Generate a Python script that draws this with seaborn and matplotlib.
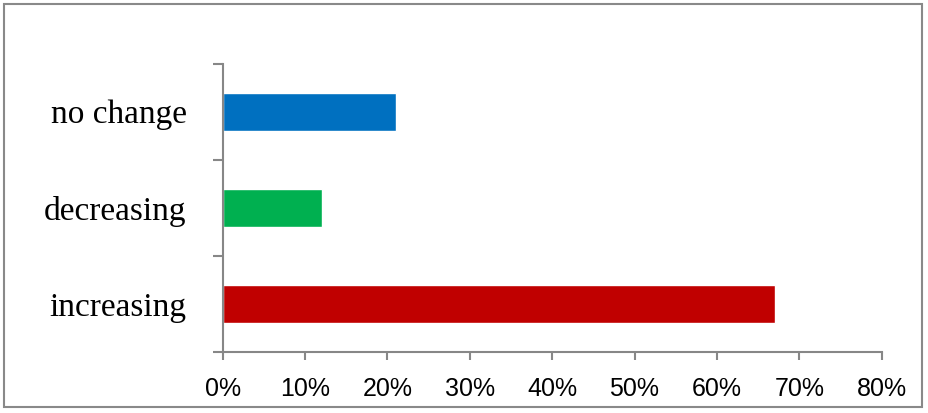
import numpy as np
import pandas as pd
import seaborn as sns
from matplotlib import pyplot as plt
from matplotlib.patches import Rectangle
from matplotlib.ticker import FixedLocator, PercentFormatter

# datos
categories = ['no change', 'decreasing', 'increasing']
shares = [21, 12, 67]
colors = ['#0070c0', '#00b050', '#c00000']

df = pd.DataFrame({'answer': categories, 'share': shares})

sns.set_style('white')
plt.rcParams['font.family'] = ['Liberation Serif', 'DejaVu Serif']
plt.rcParams['xtick.labelcolor'] = 'black'
plt.rcParams['ytick.labelcolor'] = 'black'

fig = plt.figure(figsize=(9.29, 4.13), dpi=100)
ax = fig.add_axes([0.2397, 0.1477, 0.949 - 0.2397, 0.8458 - 0.1477])

sns.barplot(data=df, x='share', y='answer', hue='answer', palette=colors,
            order=categories, width=0.4, saturation=1, legend=False, ax=ax)

gray = '#878787'
ax.set_xlim(0, 80)
ax.set_ylim(2.5, -0.5)
ax.set_xticks(np.arange(0, 81, 10))
ax.xaxis.set_major_formatter(PercentFormatter(decimals=0))
ax.set_xlabel('')
ax.set_ylabel('')

# marcas del eje y entre categorías, etiquetas centradas en cada barra
ax.set_yticks([-0.5, 0.5, 1.5, 2.5])
ax.set_yticklabels([])
ax.yaxis.set_minor_locator(FixedLocator(range(len(categories))))
ax.set_yticklabels(categories, minor=True)
ax.tick_params(axis='y', which='major', length=7, width=1.5, color=gray, left=True)
ax.tick_params(axis='y', which='minor', length=0, pad=26, labelsize=24,
               labelcolor='black')
ax.tick_params(axis='x', length=6, width=1.5, color=gray, bottom=True, pad=12,
               labelsize=18, labelcolor='black')
for lab in ax.get_xticklabels():
    lab.set_family(['Liberation Sans', 'DejaVu Sans'])

for side in ['top', 'right']:
    ax.spines[side].set_visible(False)
for side in ['left', 'bottom']:
    ax.spines[side].set_color(gray)
    ax.spines[side].set_linewidth(1.5)

# marco de la figura
fig.patches.append(Rectangle((4 / 929, 6 / 413), 918 / 929, 403 / 413,
                             transform=fig.transFigure, fill=False,
                             edgecolor='#898989', linewidth=1.5))

fig.savefig('out.png', dpi=100)
